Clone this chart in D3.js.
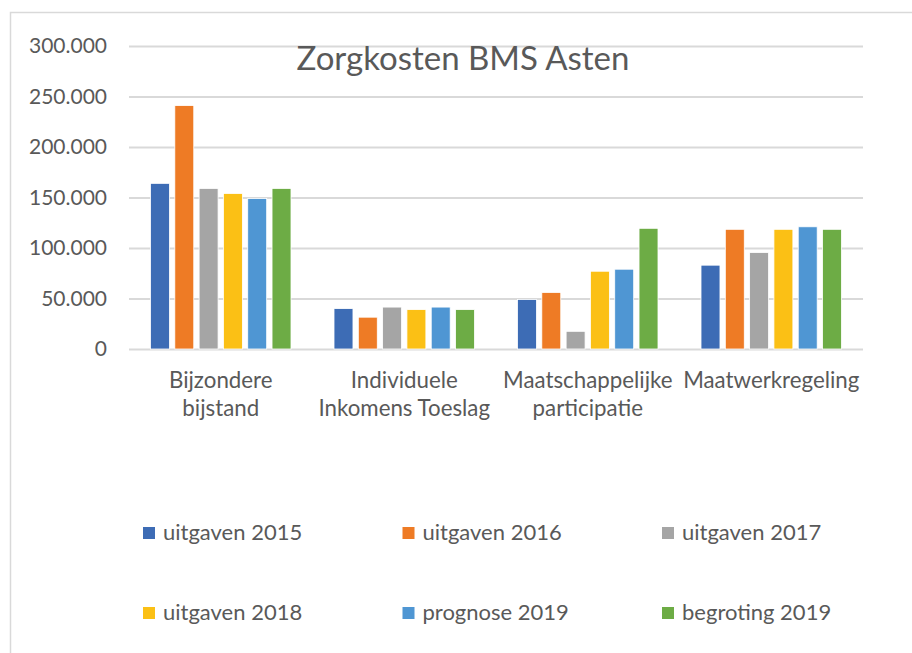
<!DOCTYPE html>
<html>
<head>
<meta charset="utf-8">
<script src="https://cdn.jsdelivr.net/npm/d3@7"></script>
<style>
  body { margin: 0; background: #fff; }
  svg { display: block; }
  text { font-family: Lato, "Noto Sans", sans-serif; fill: #595959; }
</style>
</head>
<body>
<svg id="chart" width="912" height="653"></svg>
<script>
var W = 912;
var H = 653;

var categories = [
  ['Bijzondere', 'bijstand'],
  ['Individuele', 'Inkomens Toeslag'],
  ['Maatschappelijke', 'participatie'],
  ['Maatwerkregeling']
];
var seriesNames = ['uitgaven 2015', 'uitgaven 2016', 'uitgaven 2017',
                   'uitgaven 2018', 'prognose 2019', 'begroting 2019'];
var uitgaven2015 = [164000, 40000, 49000, 83000];
var uitgaven2016 = [241000, 31500, 56000, 118500];
var uitgaven2017 = [159000, 41500, 17500, 95500];
var uitgaven2018 = [154000, 39000, 77000, 118500];
var prognose2019 = [149000, 41500, 79000, 121000];
var begroting2019 = [159000, 39000, 119500, 118500];
var yTicks = [0, 50000, 100000, 150000, 200000, 250000, 300000];

var seriesValues = [uitgaven2015, uitgaven2016, uitgaven2017,
                    uitgaven2018, prognose2019, begroting2019];
var colours = ['#3d6cb5', '#ee7b25', '#a5a5a5', '#fbc015', '#4f96d3', '#6dac45'];

var nl = d3.formatLocale({ decimal: ',', thousands: '.', grouping: [3], currency: ['€', ''] });
var fmt = nl.format(',.0f');

var svg = d3.select('#chart');

// chart frame, runs off the page on the right and bottom
svg.append('rect')
  .attr('x', 10.5).attr('y', 12.5)
  .attr('width', W + 20).attr('height', H + 20)
  .style('fill', 'none')
  .style('stroke', '#d9d9d9')
  .style('stroke-width', 1.5);

var plot = { left: 129, right: 863, top: 46, bottom: 349 };

var x0 = d3.scaleBand()
  .domain(d3.range(categories.length))
  .range([plot.left, plot.right])
  .padding(0);

var x1 = d3.scaleBand()
  .domain(d3.range(seriesNames.length))
  .range([0, x0.bandwidth()])
  .paddingInner(0.22)
  .paddingOuter(0.885);

var y = d3.scaleLinear()
  .domain([0, 300000])
  .range([plot.bottom, plot.top]);

var yAxis = d3.axisLeft(y)
  .tickValues(yTicks)
  .tickFormat(d => d === 0 ? '0' : fmt(d))
  .tickSize(-(plot.right - plot.left))
  .tickPadding(22);

var gy = svg.append('g')
  .attr('transform', 'translate(' + plot.left + ',0)')
  .call(yAxis);
gy.select('.domain').remove();
gy.selectAll('.tick line')
  .style('stroke', '#d9d9d9')
  .style('stroke-width', 1.8);
gy.selectAll('.tick text')
  .style('font-size', '21px')
  .style('font-family', 'Lato, sans-serif')
  .attr('fill', '#595959');

// bars
var groups = svg.append('g')
  .selectAll('g')
  .data(seriesValues)
  .join('g')
  .style('fill', (d, i) => colours[i]);

groups.each(function (vals, si) {
  d3.select(this).selectAll('rect')
    .data(vals)
    .join('rect')
    .attr('x', (d, ci) => x0(ci) + x1(si))
    .attr('width', x1.bandwidth())
    .attr('y', d => y(d))
    .attr('height', d => y(0) - y(d))
    .style('stroke', '#fff')
    .style('stroke-width', 0.8);
});

// category labels
var cat = svg.append('g')
  .selectAll('text')
  .data(categories)
  .join('text')
  .attr('text-anchor', 'middle')
  .style('font-size', '22.3px')
  .attr('transform', (d, i) => 'translate(' + (x0(i) + x0.bandwidth() / 2) + ',388)');

cat.selectAll('tspan')
  .data(d => d)
  .join('tspan')
  .attr('x', 0)
  .attr('dy', (d, i) => i === 0 ? 0 : 28)
  .text(d => d);

// title
svg.append('text')
  .attr('x', 463)
  .attr('y', 70)
  .attr('text-anchor', 'middle')
  .style('font-size', '33px')
  .text('Zorgkosten BMS Asten');

// legend, 3 per row
var legend = svg.append('g')
  .selectAll('g')
  .data(seriesNames)
  .join('g')
  .attr('transform', (d, i) => 'translate(' + (143 + (i % 3) * 259.5) + ',' + (527 + Math.floor(i / 3) * 80) + ')');

legend.append('rect')
  .attr('width', 12)
  .attr('height', 12)
  .style('fill', (d, i) => colours[i]);

legend.append('text')
  .attr('x', 20)
  .attr('y', 13)
  .style('font-size', '22px')
  .text(d => d);
</script>
</body>
</html>
